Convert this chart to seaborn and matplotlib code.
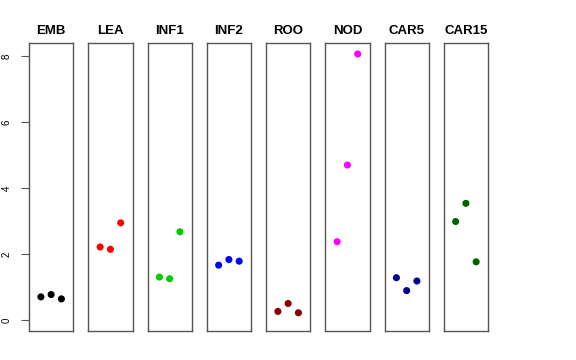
import numpy as np
import pandas as pd
import seaborn as sns
import matplotlib
matplotlib.use("Agg")
import matplotlib.pyplot as plt

# tissues and replicate values
tissues = ["EMB", "LEA", "INF1", "INF2", "ROO", "NOD", "CAR5", "CAR15"]
colors = ["black", "red", "#00CD00", "blue", "#8B0000", "magenta", "#00008B", "#006400"]
emb = [0.71, 0.78, 0.65]
lea = [2.22, 2.15, 2.95]
inf1 = [1.31, 1.26, 2.68]
inf2 = [1.67, 1.84, 1.79]
roo = [0.27, 0.51, 0.23]
nod = [2.38, 4.70, 8.06]
car5 = [1.29, 0.90, 1.19]
car15 = [2.99, 3.54, 1.77]
replicate = [1, 2, 3]

values = [emb, lea, inf1, inf2, roo, nod, car5, car15]
df = pd.DataFrame({
    "tissue": np.repeat(tissues, len(replicate)),
    "rep": replicate * len(tissues),
    "value": np.concatenate(values),
})

sns.set_style("white")
plt.rcParams["font.family"] = ["Liberation Sans", "DejaVu Sans"]
plt.rcParams["text.color"] = "black"
plt.rcParams["ytick.color"] = "black"

fig = plt.figure(figsize=(5.76, 3.6), dpi=100)
W, H = 576, 360
ymax = df["value"].max()
ylim = (0 - 0.04 * ymax, ymax * 1.04)

for i, (t, c) in enumerate(zip(tissues, colors)):
    left = 29 + 59.25 * i
    ax = fig.add_axes([left / W, 1 - 331 / H, 44.3 / W, 287.7 / H])
    sub = df[df["tissue"] == t]
    sns.scatterplot(data=sub, x="rep", y="value", color=c, s=26,
                    edgecolor="none", ax=ax, legend=False)
    ax.set_xlim(-0.16, 4.16)
    ax.set_ylim(*ylim)
    ax.set_xticks([])
    ax.set_xlabel("")
    ax.set_ylabel("")
    ax.set_title(t, fontsize=9.5, fontweight="bold", color="black", pad=7)
    for sp in ax.spines.values():
        sp.set_color("#555555")
        sp.set_linewidth(1)
    if i == 0:
        ax.set_yticks([0, 2, 4, 6, 8])
        ax.tick_params(axis="y", left=True, length=5.5, width=0.8,
                       color="#555555", labelcolor="black", labelsize=7, pad=7)
        for lab in ax.get_yticklabels():
            lab.set_rotation(90)
            lab.set_va("center")
    else:
        ax.set_yticks([])

fig.savefig("out.png", dpi=100)
